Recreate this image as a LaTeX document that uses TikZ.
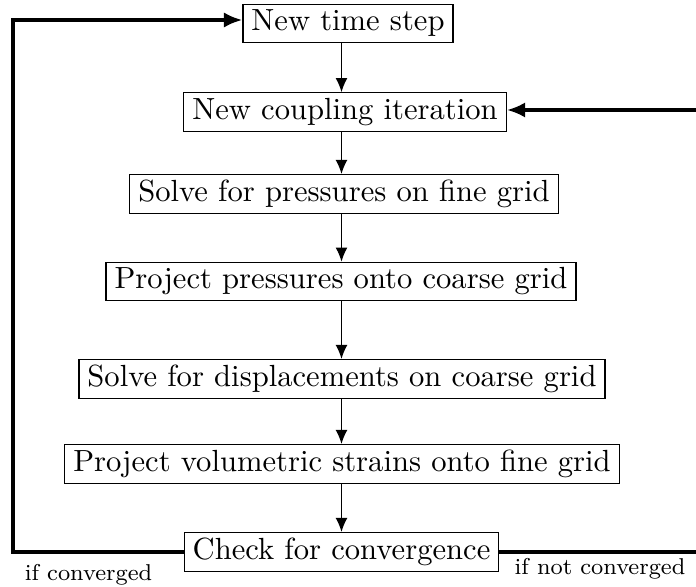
\documentclass[tikz,border=0pt]{standalone}
\usetikzlibrary{arrows.meta}
\begin{document}
\begin{tikzpicture}[x=0.3268pt,y=-0.3268pt,
    stage/.style={draw,thin,inner xsep=2.8pt,inner ysep=1.8pt},
    flow/.style={-{Latex[length=4.6pt,width=3.9pt]},thin},
    loopback/.style={-{Latex[length=6pt,width=5pt]},line width=1.1pt},
    cond/.style={font=\fontsize{7.5pt}{9pt}\selectfont,inner sep=0pt}]
\useasboundingbox (0,0) rectangle (696,587);
% stages of one time step
\node[stage] (tstep) at (348,23.5) {New time step};
\node[stage] (couple) at (345,112) {New coupling iteration};
\node[stage] (pfine) at (344,194) {Solve for pressures on fine grid};
\node[stage] (pproj) at (341,281.5) {Project pressures onto coarse grid};
\node[stage] (ucoarse) at (342,379) {Solve for displacements on coarse grid};
\node[stage] (eproj) at (342,464) {Project volumetric strains onto fine grid};
\node[stage] (check) at (341.5,552) {Check for convergence};
\draw[flow] (tstep.south -| check) -- (couple.north -| check);
\draw[flow] (couple.south -| check) -- (pfine.north -| check);
\draw[flow] (pfine.south -| check) -- (pproj.north -| check);
\draw[flow] (pproj.south -| check) -- (ucoarse.north -| check);
\draw[flow] (ucoarse.south -| check) -- (eproj.north -| check);
\draw[flow] (eproj.south -| check) -- (check.north);
% loops back
\coordinate (lft) at (13,20);
\coordinate (rgt) at (699,110);
\draw[loopback] (check.west) -| (lft) -- (tstep.west |- lft);
\draw[loopback] (check.east) -| (rgt) -- (couple.east |- rgt);
\node[cond] (conv) at (88.5,574.5) {if converged};
\node[cond] (noconv) at (600,568.5) {if not converged};
\end{tikzpicture}
\end{document}
